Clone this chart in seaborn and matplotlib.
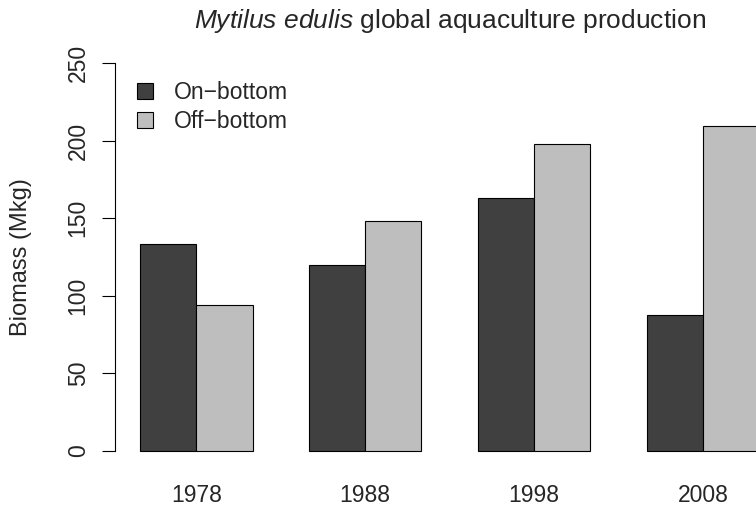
import numpy as np
import pandas as pd
import matplotlib
matplotlib.use("Agg")
import matplotlib.pyplot as plt
import seaborn as sns

# Values (Mkg)
years = ["1978", "1988", "1998", "2008"]
methods = ["On\u2212bottom", "Off\u2212bottom"]
on_bottom = [133.4, 120.0, 163.3, 87.6]
off_bottom = [94.0, 148.2, 198.1, 209.3]
colors = ["#404040", "#BEBEBE"]

df = pd.DataFrame({
    "year": years * 2,
    "method": [methods[0]] * 4 + [methods[1]] * 4,
    "biomass": on_bottom + off_bottom,
})

sns.set_style("white")
plt.rcParams["font.family"] = ["Liberation Sans", "DejaVu Sans"]
plt.rcParams["mathtext.fontset"] = "custom"
plt.rcParams["mathtext.rm"] = "Liberation Sans"
plt.rcParams["mathtext.it"] = "Liberation Sans:italic"

W, H = 756, 507
fig = plt.figure(figsize=(W / 100, H / 100), dpi=100)

# plot region in pixels (like R's plot region, extends past the right edge)
left_px, right_px = 115.2, 784.0
top_px, bottom_px = 47.8, 466.2
ax = fig.add_axes([left_px / W, 1 - bottom_px / H,
                   (right_px - left_px) / W, (bottom_px - top_px) / H])

sns.barplot(data=df, x="year", y="biomass", hue="method",
            order=years, hue_order=methods, palette=colors,
            width=2 / 3, saturation=1, edgecolor="black", linewidth=0.8,
            errorbar=None, ax=ax)

ax.set_xlim((0.56 - 2) / 3, (12.44 - 2) / 3)
ax.set_ylim(-10, 260)

for s in ["top", "right", "bottom"]:
    ax.spines[s].set_visible(False)
ax.spines["left"].set_bounds(0, 250)
ax.spines["left"].set_linewidth(0.8)
ax.spines["left"].set_color("black")

ax.set_yticks(np.arange(0, 251, 50))
ax.tick_params(axis="y", left=True, length=9.4, width=0.8, color="black",
               labelsize=16.5, pad=9, labelrotation=90)
for lab in ax.get_yticklabels():
    lab.set_va("center")
ax.tick_params(axis="x", bottom=False, length=0, labelsize=16.5, pad=13)

ax.set_xlabel("")
ax.set_ylabel("Biomass (Mkg)", fontsize=17)
ax.yaxis.set_label_coords(-(left_px - 32) / (right_px - left_px), 0.5)

ax.set_title(r"$\mathit{Mytilus\ edulis}$ global aquaculture production",
             fontsize=19, pad=14)

handles, labels = ax.get_legend_handles_labels()
ax.legend(handles, labels, loc="upper left", frameon=False, fontsize=16.5,
          bbox_to_anchor=(137 / W, 1 - 81 / H), bbox_transform=fig.transFigure,
          borderpad=0, borderaxespad=0, handlelength=0.7, handleheight=0.68,
          handletextpad=0.9, labelspacing=0.25)

fig.savefig("out.png", dpi=100)
